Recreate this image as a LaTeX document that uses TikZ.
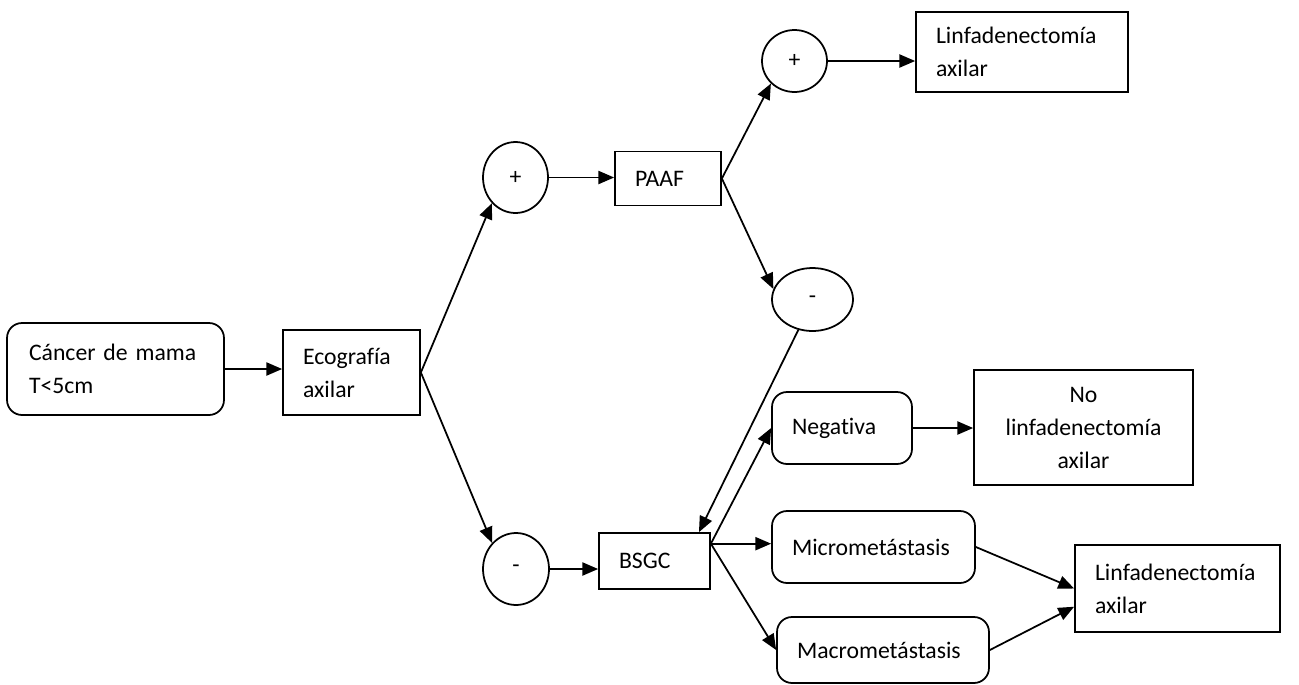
\documentclass[tikz,border=0pt]{standalone}
\usepackage{fontspec}
\setmainfont{Carlito}[Ligatures=NoCommon]
\usetikzlibrary{arrows.meta,positioning,shapes.geometric}
\usetikzlibrary{calc}
\hyphenpenalty=10000

\tikzset{
  every node/.append style={font=\fontsize{13.5}{18.8}\selectfont},
  box/.style={draw,line width=1pt,align=left,inner sep=0pt},
  rbox/.style={box,rounded corners=0.3cm},
  circ/.style={draw,ellipse,line width=1pt,inner sep=0pt},
  arr/.style={line width=1pt,-{Triangle[length=9pt,width=7.5pt]}}
}

\begin{document}
\begin{tikzpicture}[x=0.02cm,y=-0.02cm]

\useasboundingbox (0,0) rectangle (1299,684);

\node[rbox,minimum width=4.34cm,minimum height=1.84cm,text width=3.46cm] (cancer) at (115.5,369) {Cáncer de mama\\T<5cm};
\node[box,minimum width=2.74cm,minimum height=1.7cm,text width=1.94cm] (eco) at (351.5,372.5) {Ecografía\\axilar};
\node[circ,minimum width=1.3cm,minimum height=1.42cm] (pos1) at (515.5,177.5) {+};
\node[box,minimum width=2.12cm,minimum height=1.08cm,text width=1.32cm] (paaf) at (668,178.5) {PAAF};
\node[circ,minimum width=1.3cm,minimum height=1.24cm] (pos2) at (794.5,61) {+};
\node[box,minimum width=4.24cm,minimum height=1.6cm,text width=3.44cm] (linf1) at (1022,52) {Linfadenectomía\\axilar};
\node[circ,minimum width=1.62cm,minimum height=1.26cm] (neg1) at (812.5,299.5) {-};
\node[rbox,minimum width=2.8cm,minimum height=1.44cm,text width=2cm] (negativa) at (842,428) {Negativa};
\node[box,align=center,minimum width=4.38cm,minimum height=2.3cm,text width=3.5cm] (nolinf) at (1083.5,427.5) {No\\linfadenectomía\\axilar};
\node[circ,minimum width=1.32cm,minimum height=1.44cm] (neg2) at (516,569) {-};
\node[box,minimum width=2.22cm,minimum height=1.12cm,text width=1.42cm] (bsgc) at (654.5,561) {BSGC};
\node[rbox,minimum width=4.06cm,minimum height=1.44cm,text width=3.26cm] (micro) at (873.5,547) {Micrometástasis};
\node[rbox,minimum width=4.24cm,minimum height=1.32cm,text width=3.44cm] (macro) at (883,650) {Macrometástasis};
\node[box,minimum width=4.1cm,minimum height=1.74cm,text width=3.3cm] (linf2) at (1177.5,588.5) {Linfadenectomía\\axilar};

\coordinate (bsout) at ($(bsgc.north east)!0.2!(bsgc.south east)$);

\draw[arr] (cancer.east) -- (cancer.east -| eco.west);
\draw[arr] (eco.east) -- (pos1.south west);
\draw[arr] (eco.east) -- (neg2.north west);
\draw[arr] (pos1.east) -- (pos1.east -| paaf.west);
\draw[arr] (paaf.east) -- (pos2.south west);
\draw[arr] (paaf.east) -- (neg1.165);
\draw[arr] (pos2.east) -- (pos2.east -| linf1.west);
\draw[arr] (neg1.245) -- (bsgc.33);
\draw[arr] (neg2.east) -- (neg2.east -| bsgc.west);
\draw[arr] (bsout) -- (negativa.west);
\draw[arr] (bsout) -- (bsout -| micro.west);
\draw[arr] (bsout) -- (macro.west);
\draw[arr] (negativa.east) -- (negativa.east -| nolinf.west);
\draw[arr] (micro.east) -- (linf2.west);
\draw[arr] (macro.east) -- (linf2.190);
\end{tikzpicture}
\end{document}
